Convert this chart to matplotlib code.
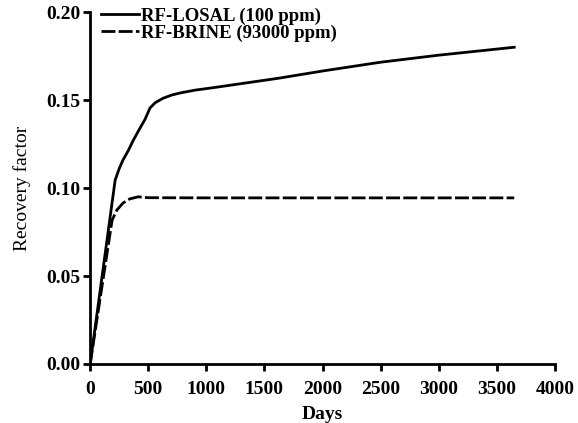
import numpy as np
import matplotlib.pyplot as plt

plt.rcParams['font.family'] = ['Liberation Serif', 'DejaVu Serif']

# 저염수 주입 (LOSAL) 회수율
losal_days = [0, 215, 250, 283, 330, 370, 420, 472, 515, 560, 627, 700, 773, 900, 1057, 1632, 2000, 2500, 3000, 3650]
losal_rf = [0.0, 0.1045, 0.111, 0.116, 0.1215, 0.127, 0.133, 0.139, 0.1455, 0.1485, 0.151, 0.1528, 0.154, 0.1556, 0.157, 0.1625, 0.1665, 0.1715, 0.1755, 0.180]

# 고염수 주입 (BRINE) 회수율
brine_days = [0, 189, 230, 283, 340, 412, 500, 1000, 2000, 3000, 3650]
brine_rf = [0.0, 0.0818, 0.0875, 0.0915, 0.0938, 0.0950, 0.0945, 0.0944, 0.0944, 0.0944, 0.0944]

fig = plt.figure(figsize=(5.78, 4.23), dpi=100)
ax = fig.add_axes([0.156, 0.1395, 0.804, 0.832])

ax.plot(losal_days, losal_rf, color='black', lw=2, label='RF-LOSAL (100 ppm)')
ax.plot(brine_days, brine_rf, color='black', lw=2, dashes=(5, 1.2), label='RF-BRINE (93000 ppm)')

ax.set_xlim(0, 4000)
ax.set_ylim(0, 0.20)
ax.set_xticks(np.arange(0, 4001, 500))
ax.set_yticks([0.00, 0.05, 0.10, 0.15, 0.20])
ax.set_yticklabels(['0.00', '0.05', '0.10', '0.15', '0.20'])

for s in ['top', 'right']:
    ax.spines[s].set_visible(False)
for s in ['left', 'bottom']:
    ax.spines[s].set_linewidth(2)
ax.tick_params(width=2, length=5, labelsize=14, pad=2)
ax.tick_params(axis='x', pad=7)
for lab in ax.get_xticklabels() + ax.get_yticklabels():
    lab.set_fontweight('bold')

ax.set_xlabel('Days', fontsize=14, fontweight='bold', labelpad=6)
ax.set_ylabel('Recovery factor', fontsize=14, labelpad=11)

ax.legend(loc='upper left', bbox_to_anchor=(0.0, 1.045), frameon=False,
          handlelength=2.0, handletextpad=0.1, labelspacing=0.0, borderaxespad=0.2,
          prop={'weight': 'bold', 'size': 13.5})

plt.savefig('out.png', dpi=100)
